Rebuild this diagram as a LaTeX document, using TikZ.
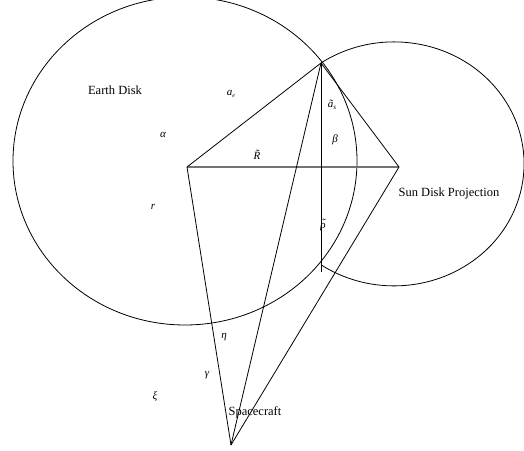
\documentclass[tikz,border=0pt]{standalone}
\usepackage{fontspec}
\setmainfont{Liberation Serif}
\newcommand{\mytil}[1]{\makebox[0pt][l]{\raisebox{1.5pt}{\kern1.2pt\char"02DC}}#1}
\begin{document}
\begin{tikzpicture}[x=1pt,y=1pt,
  curve/.style={line width=0.8pt, black},
  edge/.style={line width=0.8pt, black},
  grayline/.style={line width=1.4pt, color=black!55},
  lbl/.style={inner sep=0pt, font=\fontsize{12.5}{14}\selectfont},
  sym/.style={inner sep=0pt, font=\fontsize{11}{12}\selectfont\itshape}]
\clip (0,0) rectangle (524,450);
\coordinate (C) at (187,283);
\coordinate (P) at (321,387);
\coordinate (S) at (399,283);
\coordinate (Q) at (321,178);
\coordinate (V) at (231,5);
\coordinate (E) at (185,289);
% Earth disk
\draw[curve] (E) ellipse [x radius=172, y radius=164];
% Sun disk projection (outer part only)
\draw[curve] (P) arc[start angle=124.2, end angle=-124.2, x radius=130, y radius=122];
% connectors
\draw[grayline] (C) -- (S);
\draw[edge] (C) -- (P);
\draw[edge] (P) -- (S);
\draw[edge] (P) -- (Q);
\draw[edge] (C) -- (V);
\draw[edge] (P) -- (V);
\draw[edge] (S) -- (V);
% labels
\node[lbl] (earth) at (115,360) {Earth Disk};
\node[lbl] (sun) at (449,257) {Sun Disk Projection};
\node[lbl] (sc) at (255,38) {Spacecraft};
\node[sym] (ae) at (231,356) {a\raisebox{-2pt}{\fontsize{6}{6}\selectfont e}};
\node[sym] (alpha) at (163,315) {α};
\node[sym] (Rt) at (257,295) {R̃};
\node[sym] (r) at (153,243) {r};
\node[sym] (as) at (332,345) {ã\raisebox{-2pt}{\fontsize{7}{7}\selectfont s}};
\node[sym] (beta) at (335,310) {β};
\node[sym] (rho) at (323,225) {\mytil{ρ}};
\node[sym] (eta) at (224,113) {η};
\node[sym] (gamma) at (207,75) {γ};
\node[sym] (xi) at (155,53) {ξ};
\end{tikzpicture}
\end{document}
